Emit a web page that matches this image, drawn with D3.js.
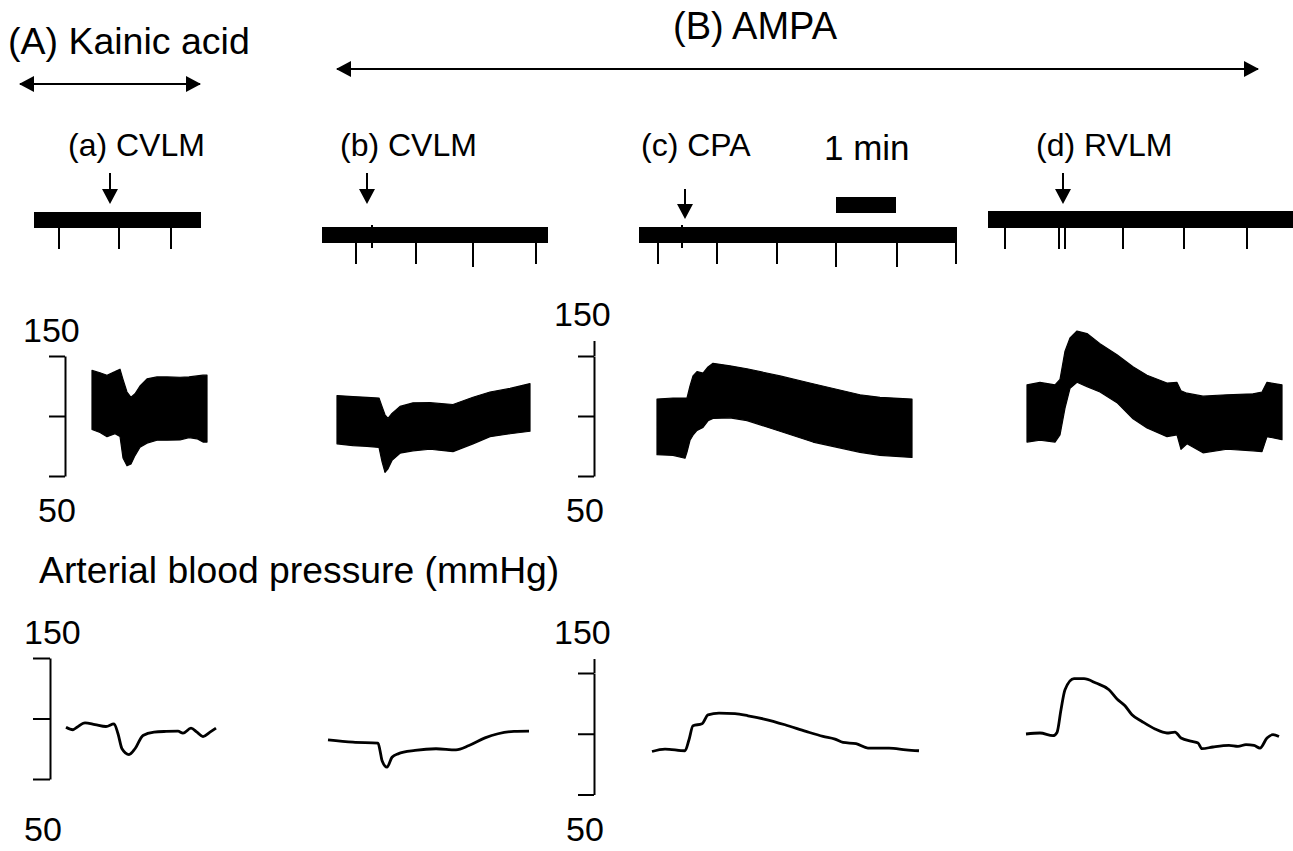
<!DOCTYPE html>
<html>
<head>
<meta charset="utf-8">
<script src="https://cdn.jsdelivr.net/npm/d3@7"></script>
<style>
  body { margin: 0; background: #fff; }
  svg text { font-family: "Liberation Sans", Arial, Helvetica, sans-serif; fill: #000; }
</style>
</head>
<body>
<div id="chart"></div>
<script>
/* CONSTANTS */
const width = 1293,
  height = 851,
  pxPerSec = 1; // the 1 min bar is 60 px long

/* DATA */
const groupTitles = ["(A) Kainic acid", "(B) AMPA"];
const panelTitles = ["(a) CVLM", "(b) CVLM", "(c) CPA", "(d) RVLM"];
const bpTicks = [50, 100, 150];
const bpTopLabel = "150", bpBottomLabel = "50";
const bpTitle = "Arterial blood pressure (mmHg)";
const scaleLabel = "1 min";
const scaleSec = 60;

// event-marker strip: record length (s), injection time (s), tick marks (s)
const stripSec = [167, 226, 318, 305];
const injectSec = [76, 45, 46, 75];
const stripTicks = [
  [25, 85, 137],
  [34, 94, 151, 214],
  [19, 78, 138, 197, 258, 317],
  [17, 71, 77, 135, 196, 259]
];
const stripMajor = [[], [151], [197, 258], []];
const stripMarks = [[], [50], [43], []];

// pulsatile pressure: time (s), upper (systolic) and lower (diastolic) envelope (mmHg)
const pulseT_a  = [0, 8, 15, 23, 28, 31, 35, 39, 43, 48, 55, 65, 75, 88, 97, 105, 111, 115];
const pulseHi_a = [138, 136, 134, 137, 139, 130.5, 120, 115.6, 118.5, 125, 131, 132.6, 132.6, 132.3, 132.6, 133.4, 134, 134];
const pulseLo_a = [88.8, 86.3, 82.8, 85.2, 83, 65, 58.5, 60, 67, 74, 77.4, 79.8, 79.8, 80, 82, 81, 78.3, 78.3];

const pulseT_b  = [0, 16, 30, 42, 45, 48, 51, 55, 63, 76, 93, 116, 136, 153, 173, 193];
const pulseHi_b = [117, 116.2, 115.6, 115, 108, 101, 98, 102.2, 108, 111, 111.1, 109.6, 115.6, 120, 123, 127];
const pulseLo_b = [76.8, 75.3, 74.7, 73.8, 62, 53, 56, 63, 69, 71, 72.3, 70.3, 76.8, 82.8, 85.2, 87.3];

const pulseT_c  = [0, 16, 28, 30, 33, 36, 40, 46, 51, 56, 73, 90, 123, 156, 203, 223, 255];
const pulseHi_c = [114.1, 115, 115, 115, 125, 133.4, 137, 135.8, 140.9, 143.9, 141.8, 139.4, 133.4, 126.9, 117.7, 115.6, 114.1];
const pulseLo_c = [67.8, 67.2, 64.8, 70, 79.8, 84, 88, 90.5, 96, 98, 98.5, 96.2, 87.3, 78.3, 69.7, 67.2, 65.5];

const pulseT_d  = [0, 13, 28, 33, 38, 43, 50, 60, 73, 90, 106, 120, 140, 150, 154, 160, 176, 200, 226, 235, 240, 255];
const pulseHi_d = [126, 128, 126, 130.5, 154, 165, 170.8, 168.7, 160.3, 151, 141, 134, 127.5, 128, 121, 119, 116.5, 117.7, 118.5, 120, 128, 126];
const pulseLo_d = [78.3, 79.8, 78.3, 84.3, 106.6, 123, 128.1, 124.5, 120, 111.1, 97.7, 90, 82.8, 84.3, 72.3, 76.8, 69.3, 72.3, 71, 70.3, 82.8, 80.3];

// mean pressure: time (s), mmHg
const meanT_a = [0, 7, 11, 19, 29, 40, 48, 52, 56, 63, 69, 77, 88, 100, 112, 117, 125, 131, 137, 144, 150];
const meanV_a = [92.8, 90.7, 92.8, 96.4, 95, 93.4, 95.6, 87.4, 75, 70.2, 75, 86, 88.7, 89.3, 89.5, 87.9, 92, 88.7, 85.1, 88.7, 92];

const meanT_b = [0, 25, 50, 52, 54, 59, 64, 70, 87, 108, 128, 141, 157, 170, 186, 201];
const meanV_b = [82.4, 80.4, 79.6, 73.6, 65.3, 59.8, 68, 70.8, 73.6, 75, 74.1, 77.7, 84, 87.4, 89.3, 89.5];

const meanT_c = [0, 13, 33, 37, 41, 50, 56, 67, 83, 96, 112, 133, 154, 171, 183, 191, 204, 216, 237, 254, 267];
const meanV_c = [85.4, 87.4, 86, 95.1, 106.6, 108.2, 115.6, 117, 116.5, 114.8, 112.1, 107.4, 101.9, 97.8, 95.6, 92.8, 91.8, 88.2, 88.2, 86.8, 86];

const meanT_d = [0, 14, 27, 31, 35, 39, 48, 58, 70, 83, 91, 99, 106, 116, 129, 141, 149, 155, 166, 172, 176, 187, 203, 212, 220, 228, 234, 241, 247, 253];
const meanV_d = [99.8, 100.6, 98.4, 101.1, 119.8, 136.2, 145.3, 145.3, 141.7, 136.2, 128.6, 123, 115.6, 110.1, 103.9, 100.6, 101.4, 96.5, 93.7, 92.4, 87.7, 89.1, 90.4, 89.6, 91, 90.4, 88.2, 96.5, 99.2, 97.8];

/* LAYOUT */
const layout = {
  stripX: [34, 322, 639, 988],
  stripY: [212, 227, 227, 211],
  stripH: [16, 16, 16, 17],
  arrowTop: [173, 173, 189, 173],
  arrowTip: [204, 204, 219, 204],
  titleX: [68, 340, 641, 1036],
  pulseX: [92, 337, 657, 1027],
  meanX: [66, 328, 652, 1026],
  // pixel rows for 50 and 150 mmHg
  pulseY: [[476, 356], [476, 356], [476, 356], [476, 356]],
  meanY: [[779, 658], [779, 658], [794.5, 673], [794.5, 673]]
};

const pulseRows = [
  { t: pulseT_a, hi: pulseHi_a, lo: pulseLo_a },
  { t: pulseT_b, hi: pulseHi_b, lo: pulseLo_b },
  { t: pulseT_c, hi: pulseHi_c, lo: pulseLo_c },
  { t: pulseT_d, hi: pulseHi_d, lo: pulseLo_d }
].map(p => p.t.map((t, i) => ({ t, hi: p.hi[i], lo: p.lo[i] })));

const meanRows = [
  [meanT_a, meanV_a], [meanT_b, meanV_b], [meanT_c, meanV_c], [meanT_d, meanV_d]
].map(([ts, vs]) => ts.map((t, i) => ({ t, v: vs[i] })));

/* SVG */
const svg = d3.select("#chart")
  .append("svg")
  .attr("width", width)
  .attr("height", height);

const defs = svg.append("defs");
defs.append("marker")
  .attr("id", "head")
  .attr("markerUnits", "userSpaceOnUse")
  .attr("viewBox", "0 0 15 16")
  .attr("refX", 14).attr("refY", 8)
  .attr("markerWidth", 15).attr("markerHeight", 16)
  .attr("orient", "auto-start-reverse")
  .append("path")
  .attr("d", "M0,0L15,8L0,16Z");

function text(x, y, str, size) {
  return svg.append("text")
    .attr("x", x).attr("y", y)
    .attr("font-size", size)
    .text(str);
}

// group titles with range arrows
text(8, 54, groupTitles[0], 37.5);
text(673, 39, groupTitles[1], 38);

svg.append("line")
  .attr("x1", 20).attr("x2", 200).attr("y1", 84).attr("y2", 84)
  .attr("stroke", "#000").attr("stroke-width", 2.2)
  .attr("marker-start", "url(#head)").attr("marker-end", "url(#head)");

svg.append("line")
  .attr("x1", 337).attr("x2", 1258).attr("y1", 69).attr("y2", 69)
  .attr("stroke", "#000").attr("stroke-width", 2.2)
  .attr("marker-start", "url(#head)").attr("marker-end", "url(#head)");

/* EVENT STRIPS */
panelTitles.forEach((title, i) => {
  const x = d3.scaleLinear()
    .domain([0, stripSec[i]])
    .range([layout.stripX[i], layout.stripX[i] + stripSec[i] * pxPerSec]);
  const y0 = layout.stripY[i], h = layout.stripH[i];
  const g = svg.append("g").attr("class", "strip");

  text(layout.titleX[i], 156, title, 32);

  g.append("rect")
    .attr("x", x(0)).attr("y", y0)
    .attr("width", x(stripSec[i]) - x(0)).attr("height", h)
    .attr("fill", "#000");

  g.selectAll("line.tick")
    .data(stripTicks[i])
    .join("line")
    .attr("class", "tick")
    .attr("x1", d => x(d)).attr("x2", d => x(d))
    .attr("y1", y0 + h)
    .attr("y2", d => y0 + h + (stripMajor[i].includes(d) ? 24 : 21))
    .attr("stroke", "#000").attr("stroke-width", 2);

  g.selectAll("line.mark")
    .data(stripMarks[i])
    .join("line")
    .attr("class", "mark")
    .attr("x1", d => x(d)).attr("x2", d => x(d))
    .attr("y1", y0 - 2).attr("y2", y0 + h + 5)
    .attr("stroke", "#000").attr("stroke-width", 2);

  // injection arrow
  const ax = x(injectSec[i]);
  g.append("line")
    .attr("x1", ax).attr("x2", ax)
    .attr("y1", layout.arrowTop[i]).attr("y2", layout.arrowTip[i] - 12)
    .attr("stroke", "#000").attr("stroke-width", 2);
  g.append("path")
    .attr("d", `M${ax - 8},${layout.arrowTip[i] - 15}L${ax + 8},${layout.arrowTip[i] - 15}L${ax},${layout.arrowTip[i]}Z`)
    .attr("fill", "#000");

  // 1 min calibration bar above panel (c)
  if (i === 2) {
    const s0 = 197;
    g.append("rect")
      .attr("x", x(s0)).attr("y", 197)
      .attr("width", x(s0 + scaleSec) - x(s0)).attr("height", 16)
      .attr("fill", "#000");
    text(824, 160, scaleLabel, 35);
  }
});

/* PRESSURE BRACKETS */
function bracket(xPos, range, tickLen, extendTo) {
  const y = d3.scaleLinear().domain([50, 150]).range(range);
  const ax = d3.axisLeft(y)
    .tickValues(bpTicks)
    .tickFormat("")
    .tickSize(tickLen)
    .tickSizeOuter(0);
  const g = svg.append("g")
    .attr("transform", `translate(${xPos},0)`)
    .call(ax);
  g.selectAll("path, line").attr("stroke", "#000").attr("stroke-width", 2);
  if (extendTo) {
    g.append("line")
      .attr("x1", 0.5).attr("x2", 0.5)
      .attr("y1", y(150)).attr("y2", y(extendTo))
      .attr("stroke", "#000").attr("stroke-width", 2);
  }
  return y;
}

bracket(65, layout.pulseY[0], 16, null);
bracket(594, layout.pulseY[2], 16, 162.5);
bracket(50, layout.meanY[0], 17, null);
bracket(594, layout.meanY[2], 16, 161.5);

text(23, 342, bpTopLabel, 34);
text(38, 522, bpBottomLabel, 34);
text(554, 326, bpTopLabel, 34);
text(566, 522, bpBottomLabel, 34);
text(39, 583, bpTitle, 37.3);
text(24, 644, bpTopLabel, 34);
text(24, 841, bpBottomLabel, 34);
text(554, 644, bpTopLabel, 34);
text(566, 841, bpBottomLabel, 34);

/* PULSATILE TRACES */
pulseRows.forEach((data, i) => {
  const tEnd = d3.max(data, d => d.t);
  const x = d3.scaleLinear().domain([0, tEnd])
    .range([layout.pulseX[i], layout.pulseX[i] + tEnd * pxPerSec]);
  const y = d3.scaleLinear().domain([50, 150]).range(layout.pulseY[i]);
  const area = d3.area()
    .x(d => x(d.t))
    .y0(d => y(d.lo))
    .y1(d => y(d.hi));
  svg.append("path")
    .datum(data)
    .attr("class", "pulse")
    .attr("d", area)
    .attr("fill", "#000")
    .attr("stroke", "#000")
    .attr("stroke-width", 1.2)
    .attr("stroke-linejoin", "round");
});

/* MEAN TRACES */
meanRows.forEach((data, i) => {
  const tEnd = d3.max(data, d => d.t);
  const x = d3.scaleLinear().domain([0, tEnd])
    .range([layout.meanX[i], layout.meanX[i] + tEnd * pxPerSec]);
  const y = d3.scaleLinear().domain([50, 150]).range(layout.meanY[i]);
  const line = d3.line()
    .x(d => x(d.t))
    .y(d => y(d.v))
    .curve(d3.curveMonotoneX);
  svg.append("path")
    .datum(data)
    .attr("class", "mean")
    .attr("d", line)
    .attr("fill", "none")
    .attr("stroke", "#000")
    .attr("stroke-width", 2.8)
    .attr("stroke-linejoin", "round");
});
</script>
</body>
</html>
